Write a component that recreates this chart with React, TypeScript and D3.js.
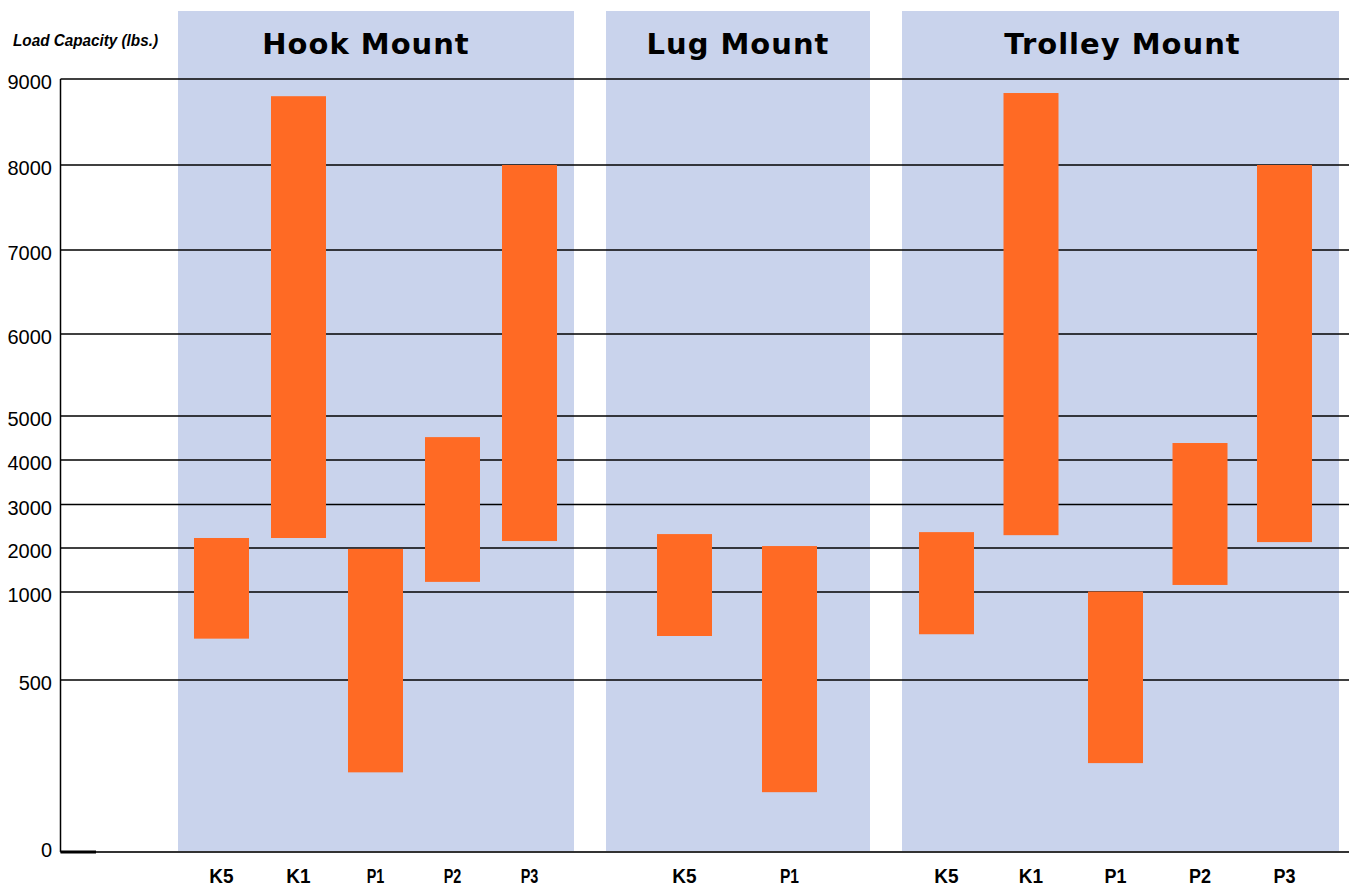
import { useEffect } from "react";
import * as d3 from "d3";

// values (lbs.)
const yTicks = [0, 500, 1000, 2000, 3000, 4000, 5000, 6000, 7000, 8000, 9000];

const panelTitles = ["Hook Mount", "Lug Mount", "Trolley Mount"];

const hookCats = ["K5", "K1", "P1", "P2", "P3"];
const hookLow = [735, 2230, 230, 1230, 2160];
const hookHigh = [2230, 8800, 1980, 4520, 8000];

const lugCats = ["K5", "P1"];
const lugLow = [750, 172];
const lugHigh = [2320, 2045];

const trolleyCats = ["K5", "K1", "P1", "P2", "P3"];
const trolleyLow = [760, 2295, 257, 1160, 2136];
const trolleyHigh = [2365, 8837, 1010, 4386, 8000];

const W = 1349;
const H = 888;
const axisX = 60.5;
const axisBottom = 852;
const barW = 55;

// the chart's value axis is not linear: each tick band has its own height
const y = d3
  .scaleLinear()
  .domain(yTicks)
  .range([851, 680, 592, 548, 504.5, 460, 416, 334, 250, 165, 79]);

const panels = [
  { cats: hookCats, low: hookLow, high: hookHigh, x0: 178, x1: 574, c: [221.5, 529.5], squeezeP: 0.72, dx: -10 },
  { cats: lugCats, low: lugLow, high: lugHigh, x0: 606, x1: 870, c: [684.5, 789.5], squeezeP: 0.78, dx: 0 },
  { cats: trolleyCats, low: trolleyLow, high: trolleyHigh, x0: 902, x1: 1339, c: [946.5, 1284.5], squeezeP: 0.9, dx: 2 },
];

export default function App() {
  useEffect(() => {
    document.body.style.margin = "0";
  }, []);

  return (
    <svg width={W} height={H} style={{ display: "block", background: "#fff" }}>
      {/* panel backgrounds */}
      {panels.map((p, i) => (
        <rect key={"bg" + i} x={p.x0} y={11} width={p.x1 - p.x0} height={axisBottom - 11} fill="#c9d3ec" />
      ))}

      {/* panel titles */}
      {panels.map((p, i) => (
        <text
          key={"t" + i}
          x={(p.x0 + p.x1) / 2 + p.dx}
          y={54}
          textAnchor="middle"
          fontFamily="'DejaVu Sans', sans-serif"
          fontWeight="bold"
          fontSize={29}
          letterSpacing={1}
          fill="#000"
        >
          {panelTitles[i]}
        </text>
      ))}

      {/* grid lines */}
      {yTicks
        .filter((t) => t > 0)
        .map((t) => (
          <line key={"g" + t} x1={axisX} x2={W} y1={y(t)} y2={y(t)} stroke="#000" strokeWidth={1.5} />
        ))}

      {/* range bars + category labels */}
      {panels.map((p, i) => {
        const x = d3.scalePoint<string>().domain(p.cats).range(p.c as [number, number]);
        return (
          <g key={"bars" + i}>
            {p.cats.map((c, j) => (
              <rect
                key={c}
                x={x(c)! - barW / 2}
                y={y(p.high[j])}
                width={barW}
                height={y(p.low[j]) - y(p.high[j])}
                fill="#ff6a24"
              />
            ))}
            {p.cats.map((c, j) => (
              <text
                key={"l" + c}
                transform={`translate(${x(c)},883) scale(${c.startsWith("P") ? p.squeezeP : 0.95},1)`}
                textAnchor="middle"
                fontFamily="'Liberation Sans', Arial, sans-serif"
                fontWeight="bold"
                fontSize={20}
                fill="#000"
              >
                {c}
              </text>
            ))}
          </g>
        );
      })}

      {/* axes */}
      <line x1={axisX} x2={axisX} y1={y(9000)} y2={axisBottom} stroke="#000" strokeWidth={1.5} />
      <line x1={axisX} x2={W} y1={axisBottom} y2={axisBottom} stroke="#333" strokeWidth={2} />
      <line x1={axisX} x2={96} y1={axisBottom} y2={axisBottom} stroke="#000" strokeWidth={3} />

      {/* tick labels */}
      {yTicks.map((t) => (
        <text
          key={"yl" + t}
          x={52}
          y={y(t) + (t === 0 ? 6 : 10)}
          textAnchor="end"
          fontFamily="'Liberation Sans', Arial, sans-serif"
          fontSize={20}
          fill="#000"
        >
          {t}
        </text>
      ))}

      <text
        x={13}
        y={46}
        fontFamily="'Liberation Sans', Arial, sans-serif"
        fontWeight="bold"
        fontStyle="italic"
        fontSize={16}
        textLength={145}
        lengthAdjust="spacingAndGlyphs"
        fill="#000"
      >
        Load Capacity (lbs.)
      </text>
    </svg>
  );
}
